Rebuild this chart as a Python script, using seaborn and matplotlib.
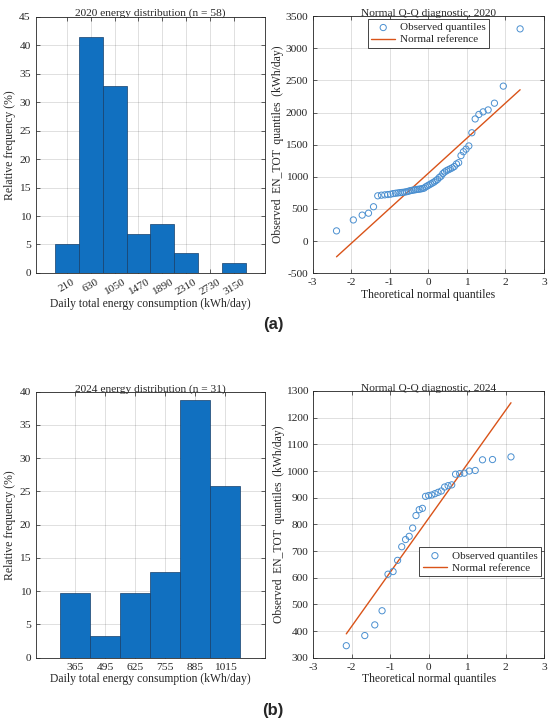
import statistics
import numpy as np
import pandas as pd
import matplotlib
matplotlib.use("Agg")
import matplotlib.pyplot as plt
import seaborn as sns

energia_2020 = [160, 330, 405, 435, 535, 705, 715, 720, 725, 730, 740, 745, 750, 755,
                758, 762, 768, 775, 785, 790, 795, 800, 805, 808, 812, 818, 825, 845,
                860, 875, 890, 905, 920, 940, 960, 990, 1010, 1050, 1075, 1095, 1110,
                1125, 1140, 1160, 1200, 1220, 1330, 1390, 1430, 1480, 1685, 1900, 1970,
                2010, 2040, 2145, 2410, 3300]
energia_2024 = [345, 383, 423, 476, 613, 623, 665, 716, 743, 755, 786, 833, 855, 860,
                905, 908, 910, 915, 920, 925, 940, 945, 948, 988, 990, 992, 1000, 1002,
                1042, 1043, 1053]

bins_2020 = [0, 420, 840, 1260, 1680, 2100, 2520, 2940, 3360]
ticks_2020 = [210, 630, 1050, 1470, 1890, 2310, 2730, 3150]
bins_2024 = [300, 430, 560, 690, 820, 950, 1080]
ticks_2024 = [365, 495, 625, 755, 885, 1015]

AZUL = "#1170c0"
NARANJA = "#d95319"
GRIS = "#262626"

sns.set_style("ticks")
plt.rcParams["font.family"] = ["Liberation Serif", "DejaVu Serif"]
plt.rcParams["axes.unicode_minus"] = False


def estilo(ax):
    for s in ax.spines.values():
        s.set_color(GRIS)
        s.set_linewidth(0.6)
    ax.set_axisbelow(True)
    ax.grid(True, color=GRIS, alpha=0.17, linewidth=0.6)
    ax.tick_params(direction="in", length=3, width=0.5, labelsize=8.2,
                   top=True, right=True, colors=GRIS, labelcolor=GRIS, pad=3.5)


def histograma(ax, datos, bins, ticks, titulo, xlim, ylim, yticks, rot):
    df = pd.DataFrame({"energia": datos})
    sns.histplot(data=df, x="energia", bins=bins, stat="percent", ax=ax,
                 color=AZUL, alpha=1, edgecolor="#163f6a", linewidth=0.5)
    ax.set_xlim(*xlim)
    ax.set_ylim(*ylim)
    ax.set_yticks(yticks)
    ax.set_xticks(ticks)
    ax.set_xticklabels([str(t) for t in ticks], rotation=rot)
    ax.set_title(titulo, fontsize=8.2, pad=0.3, color=GRIS)
    ax.set_xlabel("Daily total energy consumption (kWh/day)", fontsize=8.4, labelpad=1)
    ax.set_ylabel("Relative frequency (%)", fontsize=8.5, labelpad=2)
    estilo(ax)


def qq(ax, datos, titulo, ylim, yticks, loc, anchor):
    n = len(datos)
    dist = statistics.NormalDist()
    teor = [dist.inv_cdf((i - 0.5) / n) for i in range(1, n + 1)]
    obs = sorted(datos)
    media = np.mean(obs)
    desv = np.std(obs, ddof=1)
    ref = pd.DataFrame({"z": [teor[0], teor[-1]]})
    ref["y"] = media + desv * ref["z"]
    sns.scatterplot(x=teor, y=obs, ax=ax, marker="o", s=20, facecolor="none",
                    edgecolor="#4a8fd0", linewidth=0.7, label="Observed quantiles", zorder=3)
    sns.lineplot(data=ref, x="z", y="y", ax=ax, color=NARANJA, linewidth=1.0,
                 label="Normal reference", zorder=2)
    ax.set_xlim(-3, 3)
    ax.set_xticks([-3, -2, -1, 0, 1, 2, 3])
    ax.set_ylim(*ylim)
    ax.set_yticks(yticks)
    ax.set_title(titulo, fontsize=8.2, pad=0.3, color=GRIS)
    ax.set_xlabel("Theoretical normal quantiles", fontsize=8.4, labelpad=1)
    ax.set_ylabel("Observed  EN_TOT  quantiles  (kWh/day)", fontsize=8.4, labelpad=1)
    estilo(ax)
    leg = ax.legend(loc=loc, bbox_to_anchor=anchor, fontsize=8, frameon=True,
                    fancybox=False, handlelength=2.2, borderpad=0.3,
                    labelspacing=0.2, handletextpad=0.4, borderaxespad=0.3)
    leg.get_frame().set_edgecolor(GRIS)
    leg.get_frame().set_linewidth(0.6)
    leg.get_frame().set_alpha(1)


fig = plt.figure(figsize=(5.5, 7.21), dpi=100)

ax1 = fig.add_axes([0.0649, 0.6214, 0.4169, 0.3555])
ax2 = fig.add_axes([0.5685, 0.6209, 0.4205, 0.3569])
ax3 = fig.add_axes([0.0649, 0.0878, 0.4169, 0.3689])
ax4 = fig.add_axes([0.5696, 0.0878, 0.4195, 0.3699])

histograma(ax1, energia_2020, bins_2020, ticks_2020, "2020 energy distribution (n = 58)",
           (-340, 3700), (0, 45), range(0, 46, 5), 30)
qq(ax2, energia_2020, "Normal Q-Q diagnostic, 2020", (-500, 3500),
   range(-500, 3501, 500), "upper center", (0.5, 1.0))

histograma(ax3, energia_2024, bins_2024, ticks_2024, "2024 energy distribution (n = 31)",
           (193, 1187), (0, 40), range(0, 41, 5), 0)
qq(ax4, energia_2024, "Normal Q-Q diagnostic, 2024", (300, 1300),
   range(300, 1301, 100), "center right", (1.0, 0.36))

fig.text(0.4964, 1 - 325 / 721, "(a)", ha="center", va="center",
         fontsize=12, fontweight="bold", family=["Liberation Sans", "DejaVu Sans"])
fig.text(0.4964, 1 - 711 / 721, "(b)", ha="center", va="center",
         fontsize=12, fontweight="bold", family=["Liberation Sans", "DejaVu Sans"])

fig.savefig("out.png", dpi=100)
